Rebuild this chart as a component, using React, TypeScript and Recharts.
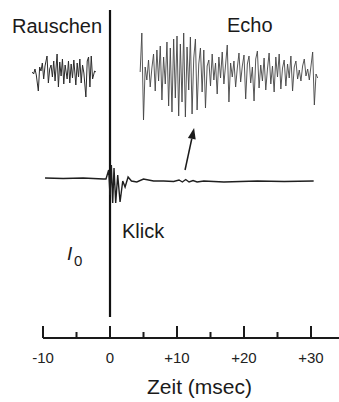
import { ComposedChart, Line, XAxis, YAxis, ReferenceLine } from 'recharts';

// Zeit in msec, Amplitude in willkürlichen Einheiten
const rauschen: [number, number][] = [
  [-11.6, 0], [-11.4, -0.2], [-11.2, 0.3], [-11.0, -0.3], [-10.7, -1.9], [-10.5, 0.5],
  [-10.3, 0.1], [-10.1, 0.9], [-9.9, -0.7], [-9.7, 0.6], [-9.4, 1.6], [-9.2, -1.1],
  [-9.0, 0.3], [-8.8, 0.7], [-8.6, -0.5], [-8.4, 1.1], [-8.2, -0.9], [-7.9, 1.8],
  [-7.7, -1.5], [-7.5, 1.0], [-7.3, -0.4], [-7.1, 1.3], [-6.9, -1.2], [-6.7, 0.7],
  [-6.4, -0.7], [-6.2, 1.1], [-6.0, -1.1], [-5.8, 0.8], [-5.6, -0.6], [-5.4, 1.2],
  [-5.1, -1.3], [-4.9, 0.9], [-4.7, -0.5], [-4.5, 1.3], [-4.3, -1.1], [-4.1, 0.7],
  [-3.9, -0.1], [-3.6, -2.5], [-3.4, 1.1], [-3.2, 1.5], [-3.0, -1.5], [-2.8, 1.6],
  [-2.6, -0.7], [-2.3, 0.1], [-2.1, 0.0],
];

const echo: [number, number][] = [
  [4.5, 0], [4.75, 3.9], [5.0, -4.8], [5.25, 0.5], [5.5, -0.8], [5.75, 1.2], [6.0, -1.5],
  [6.25, 0.4], [6.5, 1.8], [6.75, -1.9], [7.0, 2.2], [7.25, -0.9], [7.5, 2.6], [7.75, -2.8],
  [8.0, 1.5], [8.25, -1.2], [8.5, 3.0], [8.75, -3.4], [9.0, 2.4], [9.25, -4.0], [9.5, 3.3],
  [9.75, -2.6], [10.0, 3.6], [10.25, -4.4], [10.5, 2.8], [10.75, -3.0], [11.0, 3.9],
  [11.25, -4.5], [11.5, 2.5], [11.75, -1.8], [12.0, 3.5], [12.25, -4.2], [12.5, 1.4],
  [12.75, 3.3], [13.0, -3.8], [13.25, 0.8], [13.5, 2.4], [13.75, -2.0], [14.0, 2.2],
  [14.25, -3.6], [14.5, 0.6], [14.75, 1.2], [15.0, -1.4], [15.25, 1.8], [15.5, -0.8],
  [15.75, 0.9], [16.0, -2.2], [16.25, 1.5], [16.5, -0.6], [16.75, 2.0], [17.0, -1.2],
  [17.25, 0.7], [17.5, 2.7], [17.75, -3.0], [18.0, 0.9], [18.25, -0.5], [18.5, 1.1],
  [18.75, -1.5], [19.0, 0.4], [19.25, 1.9], [19.5, -1.0], [19.75, 0.6], [20.0, 1.7],
  [20.25, -2.7], [20.5, 0.8], [20.75, 1.6], [21.0, -1.1], [21.25, 0.5], [21.5, -2.9],
  [21.75, 1.3], [22.0, 2.1], [22.25, -1.6], [22.5, 0.7], [22.75, -0.9], [23.0, 1.4],
  [23.25, -1.8], [23.5, 0.3], [23.75, 1.9], [24.0, -1.2], [24.25, 0.6], [24.5, -2.0],
  [24.75, 1.5], [25.0, -0.5], [25.25, 1.8], [25.5, -1.7], [25.75, 0.4], [26.0, 1.2],
  [26.25, -1.4], [26.5, 0.8], [26.75, -0.6], [27.0, 1.6], [27.25, -1.9], [27.5, 0.5],
  [27.75, 1.1], [28.0, -0.7], [28.25, 0.2], [28.5, -0.9], [28.75, 0.6], [29.0, 1.3],
  [29.25, -0.4], [29.5, 0.3], [29.75, -0.8], [30.0, 0.6], [30.25, 2.0], [30.5, -3.3],
  [30.75, -0.2], [31.0, -0.6],
];

// Antwort im Gehörgang nach dem Klick
const klick: [number, number][] = [
  [-9.7, 0.2], [-7.0, 0.15], [-4.0, 0.2], [-1.0, 0.1], [-0.6, 0.1], [-0.2, 1.0], [0.0, -1.5],
  [0.2, 1.5], [0.4, -2.3], [0.6, 1.2], [0.85, -2.3], [1.15, 0.5], [1.5, -2.2], [1.9, -0.1],
  [2.25, -0.7], [2.7, 0.3], [3.2, -0.1], [4.0, -0.2], [5.0, 0.1], [6.5, -0.1], [8.0, -0.1],
  [9.5, -0.15], [10.3, 0.0], [10.8, -0.2], [11.3, 0.05], [11.8, -0.2], [12.4, -0.05],
  [13.0, -0.2], [14.0, -0.1], [17.0, -0.2], [22.0, -0.1], [26.0, -0.15], [30.4, -0.1],
];

const zeitTicks = [-10, -5, 0, 5, 10, 15, 20, 25, 30];
const zeitLabels: Record<number, string> = { [-10]: '-10', 0: '0', 10: '+10', 20: '+20', 30: '+30' };

const toRows = (pts: [number, number][]) => pts.map(([t, v]) => ({ t, v }));

const font = '"Liberation Sans", Arial, sans-serif';

function ZeitTick(props: any) {
  const { x, y, payload } = props;
  const label = zeitLabels[payload.value];
  const h = label !== undefined ? 12 : 6;
  return (
    <g>
      <line x1={x} x2={x} y1={y - h} y2={y} stroke="#1a1a1a" strokeWidth={2} />
      {label !== undefined && (
        <text x={x} y={y + 25} textAnchor="middle" fontSize={15} fontFamily={font} fill="#222">
          {label}
        </text>
      )}
    </g>
  );
}

function Pfeil(props: any) {
  const { x1, y1, x2, y2 } = props;
  const a = Math.atan2(y2 - y1, x2 - x1);
  const len = 11;
  const w = 4;
  const bx = x2 - len * Math.cos(a);
  const by = y2 - len * Math.sin(a);
  const px = -Math.sin(a) * w;
  const py = Math.cos(a) * w;
  return (
    <g>
      <line x1={x1} y1={y1} x2={bx} y2={by} stroke="#1a1a1a" strokeWidth={1.5} />
      <polygon points={`${x2},${y2} ${bx + px},${by + py} ${bx - px},${by - py}`} fill="#1a1a1a" />
    </g>
  );
}

export default function App() {
  return (
    <div style={{ position: 'absolute', left: 0, top: 0, width: 339, height: 402, background: '#fff' }}>
      <ComposedChart width={339} height={402} margin={{ top: 0, right: 0, left: 0, bottom: 0 }}>
        <XAxis
          dataKey="t"
          type="number"
          domain={[-16.42, 34.18]}
          allowDataOverflow
          ticks={zeitTicks}
          tick={<ZeitTick />}
          tickSize={0}
          tickMargin={0}
          tickLine={false}
          axisLine={false}
          height={64}
          interval={0}
        />
        <YAxis yAxisId="signal" hide domain={[-26.6, 7.2]} allowDataOverflow />
        <YAxis yAxisId="klick" hide domain={[-15.8, 18]} allowDataOverflow />

        <ReferenceLine
          yAxisId="klick"
          segment={[{ x: -10, y: -15.8 }, { x: 34.18, y: -15.8 }]}
          stroke="#1a1a1a"
          strokeWidth={2}
        />
        <ReferenceLine
          yAxisId="klick"
          segment={[{ x: 0, y: 17.0 }, { x: 0, y: -13.7 }]}
          stroke="#111"
          strokeWidth={2.2}
        />
        <ReferenceLine
          yAxisId="klick"
          segment={[{ x: 11.2, y: 1.0 }, { x: 12.55, y: 5.2 }]}
          shape={<Pfeil />}
        />

        <Line yAxisId="signal" data={toRows(rauschen)} dataKey="v" type="linear" dot={false} activeDot={false}
          stroke="#2b2b2b" strokeWidth={1} isAnimationActive={false} />
        <Line yAxisId="signal" data={toRows(echo)} dataKey="v" type="linear" dot={false} activeDot={false}
          stroke="#444" strokeWidth={0.9} isAnimationActive={false} />
        <Line yAxisId="klick" data={toRows(klick)} dataKey="v" type="linear" dot={false} activeDot={false}
          stroke="#1f1f1f" strokeWidth={1.4} isAnimationActive={false} />
      </ComposedChart>

      <svg width={339} height={402} style={{ position: 'absolute', left: 0, top: 0, pointerEvents: 'none' }}>
        <g fontFamily={font} fill="#1a1a1a">
          <text x={12} y={33} fontSize={20}>Rauschen</text>
          <text x={227} y={32} fontSize={20}>Echo</text>
          <text x={122} y={238} fontSize={20}>Klick</text>
          <text x={67} y={260} fontSize={19} fontStyle="italic">I</text>
          <text x={74} y={266} fontSize={15}>0</text>
          <text x={147} y={394} fontSize={21}>Zeit (msec)</text>
        </g>
      </svg>
    </div>
  );
}
